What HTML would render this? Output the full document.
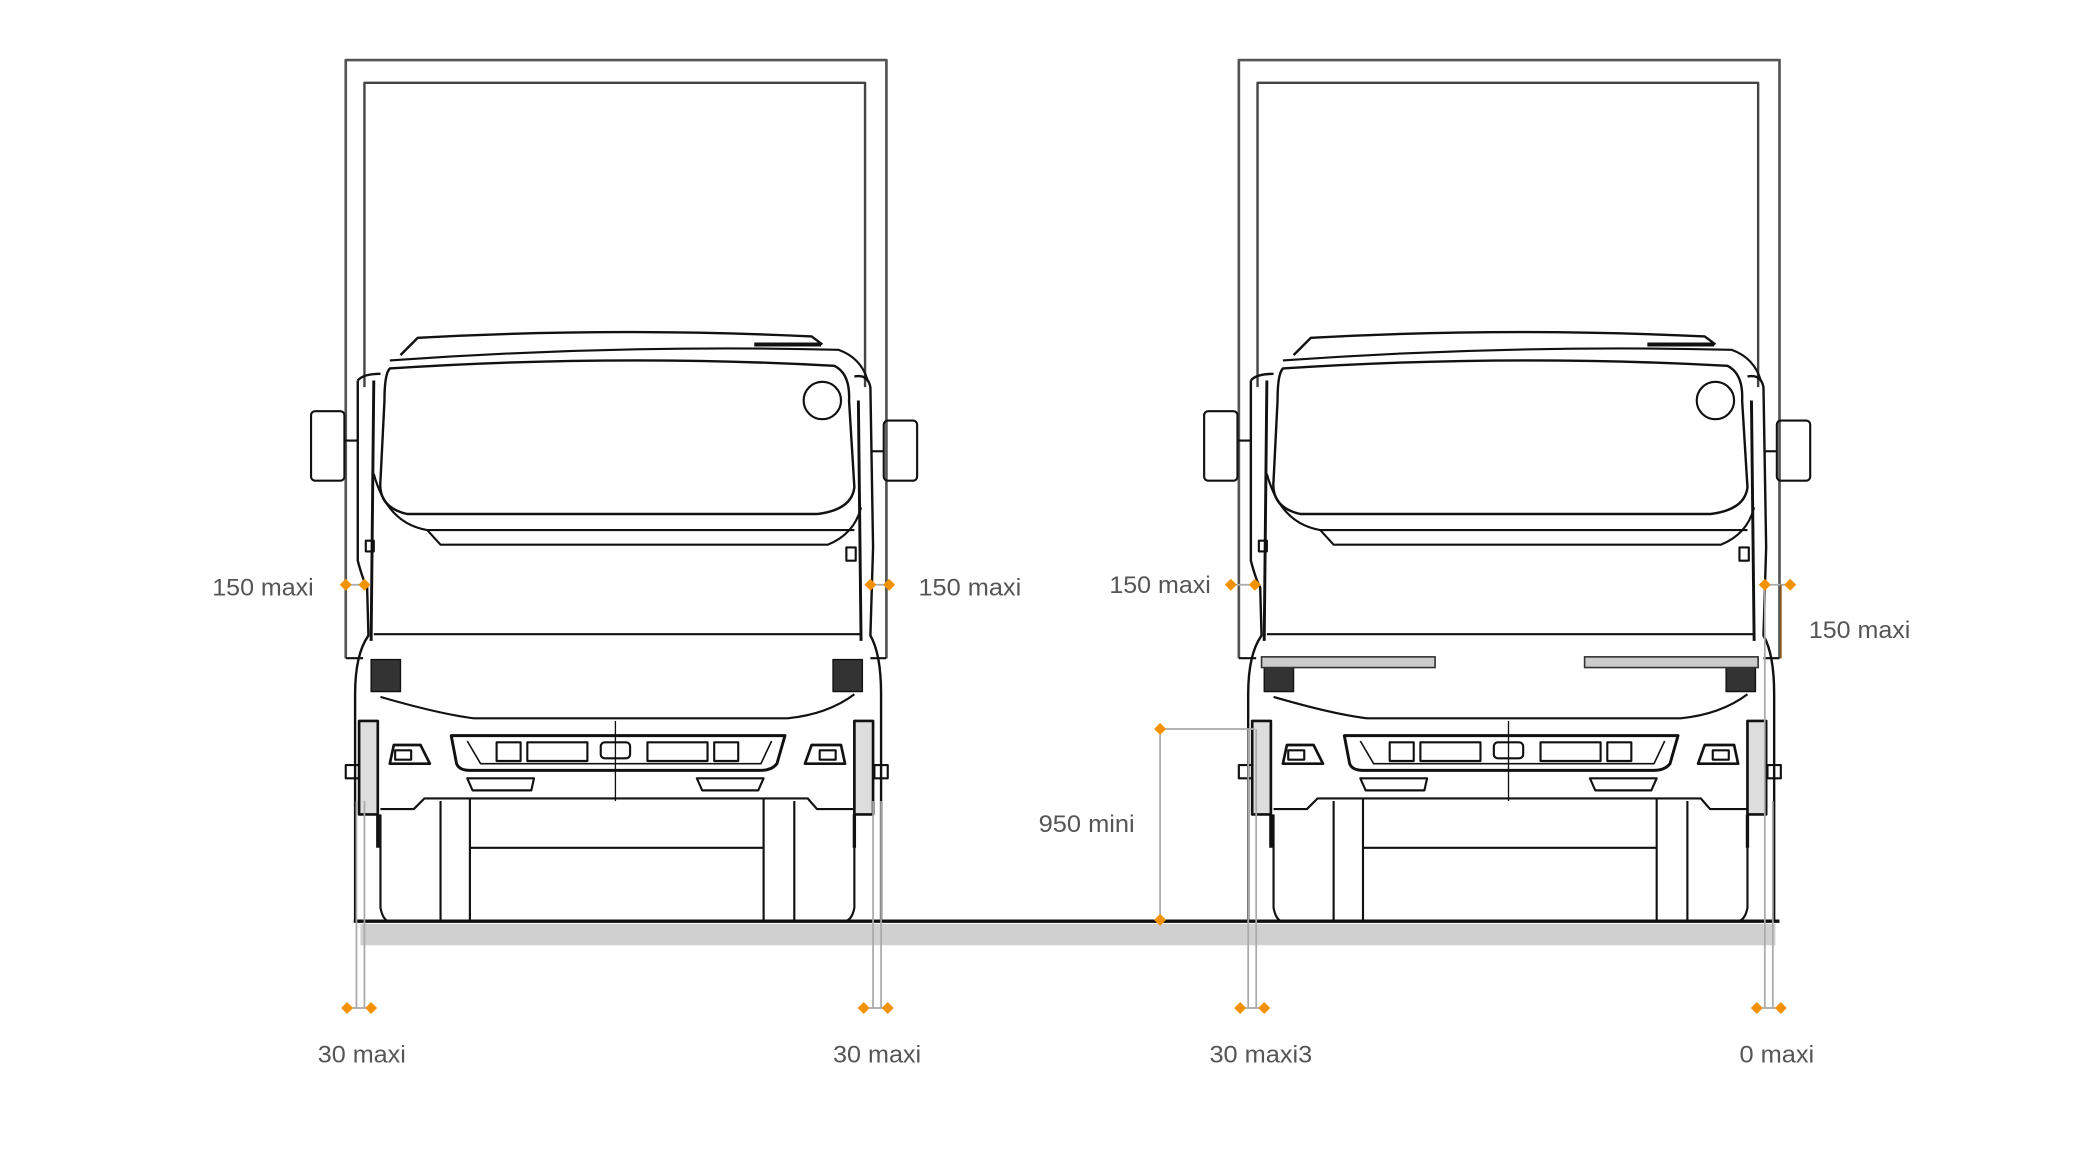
<!DOCTYPE html>
<html><head><meta charset="utf-8"><style>
html,body{margin:0;padding:0;background:#fff;}
svg{display:block;}
text{font-family:"Liberation Sans Narrow","Liberation Sans",sans-serif;fill:#555;font-size:18px;}
</style></head><body>
<svg width="2093" height="1162" viewBox="0 0 1560 866" preserveAspectRatio="none" xmlns="http://www.w3.org/2000/svg">
<defs>
<g id="truck" fill="none" stroke="#111" stroke-width="1.6" stroke-linejoin="round">
  <path d="M259 493 V45 H664 V493" stroke="#555" stroke-width="2"/>
  <path d="M273 290 V62 H648 V290" stroke="#444" stroke-width="1.8"/>
  <path d="M259 493 H272 M652 493 H664"/>
  <path d="M300 266 L313 253 Q460 245 608 252 L616 258" stroke-width="1.8"/>
  <path d="M292 270 Q460 258 628 262 Q645 268 650 285"/>
  <path d="M565 258 H615" stroke-width="3"/>
  <path d="M292 276 Q460 265 625 274 Q637 280 636 300 L640 365 Q638 382 612 385 L305 385 Q283 380 285 360 L288 300 Q288 280 292 276 Z" stroke-width="1.8"/>
  <path d="M280 355 Q290 392 320 397 L640 397" />
  <path d="M320 397 L330 408 L620 408 Q640 400 645 380"/>
  <circle cx="616" cy="300" r="14"/>
  <path d="M268 285 Q272 280 285 280 M268 285 L268 420 Q272 435 275 440 L276 476 Q266 490 266 520 L266 690" stroke-width="1.8"/>
  <path d="M280 285 L278 480" stroke-width="2.2"/>
  <path d="M640 282 Q650 280 652 290 L654 410 L652 476 Q660 490 660 520 L660 690" stroke-width="1.8"/>
  <path d="M643 300 L645 480" stroke-width="2.2"/>
  <rect x="274" y="405" width="6" height="8"/>
  <rect x="634" y="410" width="7" height="10"/>
  <rect x="233" y="308" width="25" height="52" rx="3"/>
  <path d="M258 330 H268"/>
  <rect x="662" y="315" width="25" height="45" rx="3"/>
  <path d="M652 338 H662"/>
  <path d="M280 475 H645"/>
  <path d="M285 522 Q330 535 355 538 H590 Q620 535 640 520"/>
  <rect x="278" y="494" width="22" height="24" fill="#333" stroke-width="1"/>
  <rect x="624" y="494" width="22" height="24" fill="#333" stroke-width="1"/>
  <path d="M338 551 H588 L582 572 Q578 577 570 577 H352 Q344 577 342 572 Z" stroke-width="2.2"/>
  <path d="M350 555 L360 572 H570 L578 555" stroke-width="1.2"/>
  <rect x="372" y="556" width="18" height="14"/><rect x="395" y="556" width="45" height="14"/>
  <rect x="450" y="556" width="22" height="12" rx="3"/>
  <rect x="485" y="556" width="45" height="14"/><rect x="535" y="556" width="18" height="14"/>
  <path d="M461 540 V600" stroke-width="1"/>
  <path d="M292 572 L295 558 H315 L322 572 Z" stroke-width="2"/>
  <rect x="296" y="562" width="12" height="7"/>
  <path d="M603 572 L608 558 H630 L633 572 Z" stroke-width="2"/>
  <rect x="614" y="562" width="12" height="7"/>
  <path d="M350 583 H400 L398 592 H354 Z"/>
  <path d="M522 583 H572 L568 592 H526 Z"/>
  <path d="M285 606 H310 L318 598 H605 L612 606 H640"/>
  <rect x="259" y="573" width="10" height="10"/>
  <rect x="655" y="573" width="10" height="10"/>
  <rect x="269" y="540" width="14" height="70" fill="#ddd" stroke-width="2"/>
  <rect x="640" y="540" width="14" height="70" fill="#ddd" stroke-width="2"/>
  <path d="M283 610 V635 M640 610 V635" stroke-width="2.5"/>
  <path d="M285 610 V680 Q287 690 292 690 M330 600 V690 M352 598 V690 M352 635 H572 M572 598 V690 M595 600 V690 M640 612 V680 Q638 690 632 690"/>
</g>
<path id="dia" d="M0 -4.5 L4.5 0 L0 4.5 L-4.5 0 Z" fill="#f39200"/>
</defs>
<g transform="scale(0.995)">
<use href="#truck"/>
<use href="#truck" transform="translate(669,0)"/>

<rect x="945" y="492" width="130" height="8" fill="#ccc" stroke="#333" stroke-width="1.2"/>
<rect x="1187" y="492" width="130" height="8" fill="#ccc" stroke="#333" stroke-width="1.2"/>

<rect x="270" y="692" width="1060" height="16" fill="#d0d0d0"/>
<path d="M265 690 H1333" stroke="#111" stroke-width="2.5"/>

<g stroke="#aaa" stroke-width="1.3" fill="none">
  <path d="M259 438 H273 M652 438 H666 M922 438 H940 M1322 438 H1341"/>
  <path d="M267 600 V755 M273 600 V755 M259 755 H278"/>
  <path d="M654 600 V755 M660 600 V755 M648 755 H665"/>
  <path d="M935 546 V755 M941 546 V755 M929 755 H947"/>
  <path d="M1322 438 V755 M1328 600 V755 M1316 755 H1334"/>
  <path d="M869 546 V689 M869 546 H940"/>
</g>
<path d="M1334 438 V493" stroke="#8a5a1a" stroke-width="1.3"/>

<g>
<use href="#dia" x="259" y="438"/><use href="#dia" x="273" y="438"/>
<use href="#dia" x="652" y="438"/><use href="#dia" x="666" y="438"/>
<use href="#dia" x="922" y="438"/><use href="#dia" x="940" y="438"/>
<use href="#dia" x="1322" y="438"/><use href="#dia" x="1341" y="438"/>
<use href="#dia" x="869" y="546"/><use href="#dia" x="869" y="689"/>
<use href="#dia" x="260" y="755"/><use href="#dia" x="278" y="755"/>
<use href="#dia" x="647" y="755"/><use href="#dia" x="665" y="755"/>
<use href="#dia" x="929" y="755"/><use href="#dia" x="947" y="755"/>
<use href="#dia" x="1316" y="755"/><use href="#dia" x="1334" y="755"/>
</g>

<text x="159" y="446" textLength="76" lengthAdjust="spacingAndGlyphs">150 maxi</text>
<text x="688" y="446" textLength="77" lengthAdjust="spacingAndGlyphs">150 maxi</text>
<text x="831" y="444" textLength="76" lengthAdjust="spacingAndGlyphs">150 maxi</text>
<text x="1355" y="478" textLength="76" lengthAdjust="spacingAndGlyphs">150 maxi</text>
<text x="778" y="623" textLength="72" lengthAdjust="spacingAndGlyphs">950 mini</text>
<text x="238" y="796" textLength="66" lengthAdjust="spacingAndGlyphs">30 maxi</text>
<text x="624" y="796" textLength="66" lengthAdjust="spacingAndGlyphs">30 maxi</text>
<text x="906" y="796" textLength="77" lengthAdjust="spacingAndGlyphs">30 maxi3</text>
<text x="1303" y="796" textLength="56" lengthAdjust="spacingAndGlyphs">0 maxi</text>
</g>
</svg>
</body></html>
